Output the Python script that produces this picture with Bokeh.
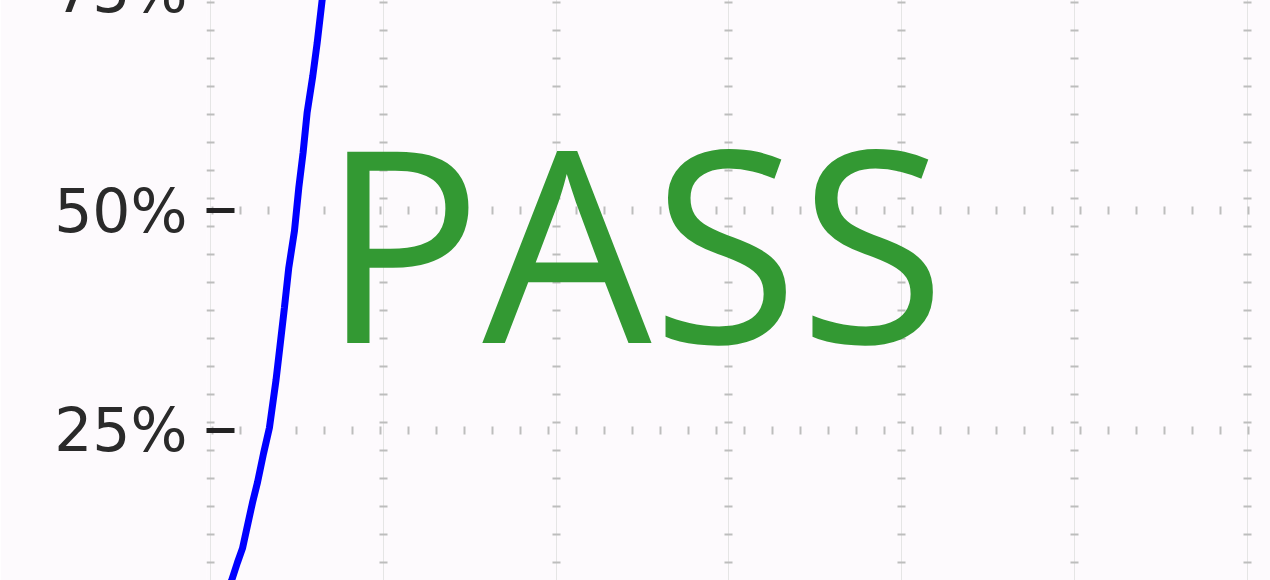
from bokeh.plotting import figure
from bokeh.models import Range1d, FixedTicker, Grid, ColumnDataSource
from bokeh.core.properties import value
from bokeh.embed import file_html
from bokeh.resources import INLINE

# ---- data ----
x_grid_ticks = [0, 10, 20, 30, 40, 50, 60]
y_ticks = [0.25, 0.50, 0.75]
y_tick_labels = ["25%", "50%", "75%"]

cdf_x = [1.05, 1.22, 1.56, 1.85, 2.14, 2.43, 2.72, 3.07, 3.41, 3.79, 4.01, 4.28,
         4.53, 4.86, 5.11, 5.36, 5.59, 5.92, 6.17, 6.46, 6.62]
cdf_y = [0.070, 0.0795, 0.100, 0.116, 0.142, 0.168, 0.191, 0.224, 0.253, 0.307, 0.344, 0.390,
         0.435, 0.477, 0.526, 0.566, 0.611, 0.653, 0.690, 0.739, 0.765]

status_text = ["PASS"]
status_x = [6.40]
status_y = [0.467]

BG = "#fdfafd"

p = figure(width=1270, height=630, output_backend="svg", toolbar_location=None,
           x_range=Range1d(-0.2315, 61.34), y_range=Range1d(0.0795, 0.7955),
           x_axis_location=None, min_border_left=206, min_border_right=0,
           min_border_top=0, min_border_bottom=0,
           background_fill_color=BG, border_fill_color=BG, outline_line_color=None)
p.margin = (-50, 0, 0, 0)

# y axis
ax = p.yaxis[0]
ax.ticker = FixedTicker(ticks=y_ticks)
ax.major_label_overrides = {t: l for t, l in zip(y_ticks, y_tick_labels)}
ax.axis_line_color = None
ax.minor_tick_line_color = None
ax.major_tick_in = 28
ax.major_tick_out = 0
ax.major_tick_line_width = 5
ax.major_tick_line_color = "#222222"
ax.major_label_standoff = 19
ax.major_label_text_font = "DejaVu Sans"
ax.major_label_text_font_size = "60px"
ax.major_label_text_color = "#2a2a2a"

# horizontal grid
g = p.ygrid[0]
g.ticker = FixedTicker(ticks=y_ticks)
g.grid_line_color = "#bdbdbd"
g.grid_line_width = 8
g.grid_line_dash = "2 26"
g.grid_line_dash_offset = 23

# vertical grid
xg = Grid(dimension=0, ticker=FixedTicker(ticks=x_grid_ticks),
          grid_line_color="#bdbdbd", grid_line_width=8,
          grid_line_dash="2 26", grid_line_dash_offset=11)
p.add_layout(xg)

src = ColumnDataSource(dict(x=cdf_x, y=cdf_y))
p.line("x", "y", source=src, line_color="#0000ff", line_width=7)

p.text(x=status_x, y=status_y, text=status_text, text_font=value("Open Sans"),
       text_font_size="268px", text_color="#339933", text_align="left",
       text_baseline="alphabetic")

open("out.html", "w").write(file_html(p, INLINE))
